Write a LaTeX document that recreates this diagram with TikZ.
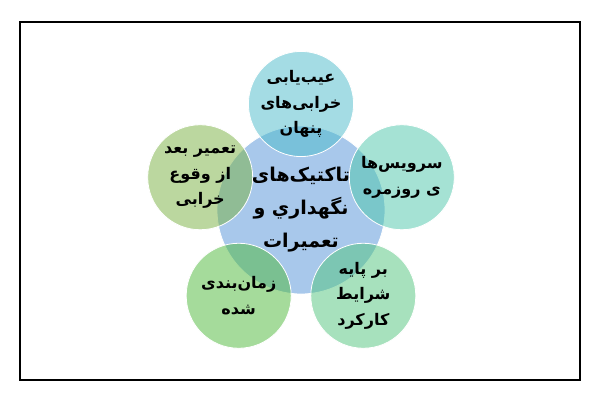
\documentclass[tikz,border=0pt]{standalone}
\usepackage{fontspec}
\newfontfamily\farsi[Script=Arabic]{DejaVu Sans}
\TeXXeTstate=1
\usetikzlibrary{positioning,calc}
\definecolor{hubblue}{RGB}{83,147,217}
\definecolor{tealtop}{RGB}{75,187,203}
\definecolor{mintright}{RGB}{77,199,171}
\definecolor{greenlow}{RGB}{81,197,125}
\definecolor{leafgreen}{RGB}{77,185,57}
\definecolor{olivegreen}{RGB}{121,177,65}
\tikzset{tactic/.style={circle, draw=white, line width=0.8pt, fill opacity=0.5, text opacity=1, minimum size=105pt, inner sep=0pt, align=center, font=\farsi\bfseries\fontsize{16}{25.5}\selectfont}}
\tikzset{hub/.style={tactic, minimum size=168pt}}
\tikzset{hub label/.style={align=center, inner sep=0pt, font=\farsi\bfseries\fontsize{19}{33}\selectfont}}
\newcommand{\rtl}[1]{\beginR #1\endR}

\begin{document}
\begin{tikzpicture}[x=1pt, y=1pt]
\useasboundingbox (0,0) rectangle (600,400);
\fill[white] (0,0) rectangle (600,400);
\draw[line width=1.2pt] (20,20) rectangle (580,378);
\node[hub, fill=hubblue] (hub) at (301,190) {};
\node[tactic, fill=tealtop] (find) at ($(hub)+(90:106)$) {\rtl{عیب‌یابی}\\\rtl{خرابی‌های}\\\rtl{پنهان}};
\node[tactic, fill=mintright] (daily) at ($(hub)+(18:106)$) {\rtl{سرویس‌ها}\\\rtl{ی روزمره}};
\node[tactic, fill=greenlow] (cond) at ($(hub)+(-54:106)$) {\rtl{بر پایه}\\\rtl{شرایط}\\\rtl{کارکرد}};
\node[tactic, fill=leafgreen] (plan) at ($(hub)+(-126:106)$) {\rtl{زمان‌بندی}\\\rtl{شده}};
\node[tactic, fill=olivegreen] (fail) at ($(hub)+(162:106)$) {\rtl{تعمیر بعد}\\\rtl{از وقوع}\\\rtl{خرابی}};
\node[hub label] (hubtext) at (hub) {\rtl{تاکتیک‌های}\\\rtl{نگهداري و}\\\rtl{تعمیرات}};
\end{tikzpicture}
\end{document}
